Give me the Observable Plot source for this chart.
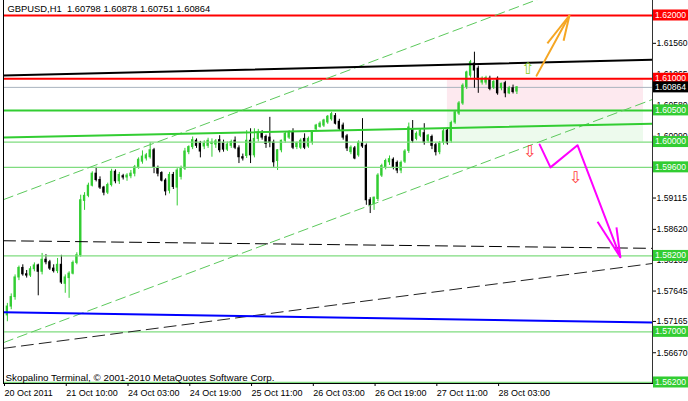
<!DOCTYPE html>
<html><head><meta charset="utf-8">
<script src="https://cdn.jsdelivr.net/npm/d3@7"></script>
<script src="https://cdn.jsdelivr.net/npm/@observablehq/plot@0.6"></script>
<style>
html,body{margin:0;padding:0;background:#fff;}
#chart{width:688px;height:401px;overflow:hidden;}
svg{display:block;}
</style>
</head><body><div id="chart"></div>
<script>
// ---------- DATA ----------
const symbol = "GBPUSD,H1";
const opens = [1.5685,1.5726,1.5740,1.5755,1.5786,1.5801,1.5791,1.5789,1.5799,1.5805,1.5795,1.5814,1.5810,1.5800,1.5796,1.5806,1.5776,1.5785,1.5792,1.5809,
1.5821,1.5907,1.5915,1.5931,1.5950,1.5940,1.5928,1.5920,1.5932,1.5953,1.5938,1.5946,1.5944,1.5946,1.5950,1.5960,1.5969,1.5974,1.5976,1.5987,
1.5959,1.5951,1.5939,1.5923,1.5948,1.5928,1.5945,1.5958,1.5984,1.5992,1.6002,1.5998,1.5993,1.5994,1.5997,1.5996,1.6003,1.5998,1.5988,1.5994,
1.6002,1.5990,1.5976,1.5978,1.6002,1.5979,1.6005,1.6014,1.6008,1.6007,1.5999,1.5970,1.5987,1.6002,1.6007,1.6015,1.5992,1.5991,1.6005,1.5993,
1.5999,1.6020,1.6024,1.6026,1.6031,1.6036,1.6041,1.6032,1.6026,1.6009,1.5984,1.5990,1.5979,1.5998,1.5994,1.5908,1.5902,1.5910,1.5947,1.5960,
1.5968,1.5972,1.5967,1.5955,1.5969,1.5986,1.6020,1.6005,1.6010,1.6014,1.6002,1.6008,1.5995,1.5984,1.5999,1.6018,1.6002,1.6031,1.6045,1.6061,
1.6087,1.6105,1.6124,1.6116,1.6094,1.6094,1.6100,1.6086,1.6100,1.6085,1.6093,1.6077,1.6085,1.60798];
const highs = [1.5735,1.5745,1.5760,1.5790,1.5804,1.5806,1.5797,1.5803,1.5809,1.5807,1.5824,1.5822,1.5813,1.5806,1.5816,1.5821,1.5790,1.5795,1.5812,1.5825,
1.5916,1.5920,1.5935,1.5953,1.5960,1.5945,1.5930,1.5935,1.5957,1.5956,1.5952,1.5949,1.5950,1.5955,1.5963,1.5975,1.5986,1.5982,1.5999,1.5990,
1.5962,1.5953,1.5942,1.5952,1.5952,1.5958,1.5962,1.5990,1.5994,1.6008,1.6005,1.6001,1.6002,1.6006,1.6005,1.6004,1.6010,1.6003,1.6000,1.6003,
1.6008,1.5994,1.5981,1.6018,1.6021,1.6021,1.6020,1.6018,1.6011,1.6039,1.6003,1.5988,1.6003,1.6016,1.6018,1.6021,1.6000,1.6005,1.6013,1.6008,
1.6018,1.6028,1.6032,1.6036,1.6042,1.6047,1.6045,1.6036,1.6030,1.6012,1.5994,1.5993,1.6002,1.6037,1.5997,1.5912,1.5913,1.5950,1.5965,1.5973,
1.5978,1.5975,1.5970,1.5970,1.5988,1.6030,1.6034,1.6016,1.6020,1.6029,1.6012,1.6011,1.5998,1.6001,1.6020,1.6022,1.6033,1.6050,1.6064,1.6092,
1.6112,1.6129,1.6142,1.6120,1.6103,1.6104,1.6104,1.6097,1.6103,1.6093,1.6096,1.6088,1.6090,1.60878];
const lows = [1.5681,1.5716,1.5735,1.5750,1.5781,1.5788,1.5785,1.5786,1.5795,1.5757,1.5790,1.5806,1.5797,1.5793,1.5792,1.5775,1.5761,1.5753,1.5790,1.5806,
1.5818,1.5892,1.5912,1.5929,1.5937,1.5925,1.5915,1.5917,1.5929,1.5934,1.5933,1.5940,1.5938,1.5942,1.5945,1.5957,1.5965,1.5970,1.5973,1.5950,
1.5945,1.5937,1.5915,1.5918,1.5925,1.5899,1.5940,1.5955,1.5980,1.5988,1.5990,1.5975,1.5988,1.5990,1.5976,1.5990,1.5983,1.5984,1.5985,1.5990,
1.5988,1.5966,1.5970,1.5974,1.5966,1.5975,1.6000,1.6003,1.5990,1.5991,1.5960,1.5955,1.5983,1.5998,1.6004,1.5988,1.5988,1.5988,1.5988,1.5990,
1.5995,1.6017,1.6022,1.6023,1.6028,1.6033,1.6027,1.6018,1.6003,1.5985,1.5980,1.5972,1.5976,1.5990,1.5900,1.5887,1.5892,1.5906,1.5944,1.5956,
1.5963,1.5956,1.5950,1.5950,1.5966,1.5982,1.5998,1.6002,1.6007,1.5995,1.5998,1.5988,1.5978,1.5980,1.5995,1.5995,1.5998,1.6028,1.6042,1.6058,
1.6083,1.6101,1.6085,1.6077,1.6090,1.6090,1.6081,1.6083,1.6074,1.6081,1.6070,1.6075,1.6076,1.60751];
const closes = [1.5728,1.5740,1.5755,1.5786,1.5801,1.5791,1.5789,1.5799,1.5805,1.5795,1.5814,1.5810,1.5800,1.5796,1.5806,1.5778,1.5786,1.5792,1.5809,1.5821,
1.5908,1.5915,1.5931,1.5950,1.5940,1.5928,1.5920,1.5932,1.5953,1.5938,1.5948,1.5944,1.5947,1.5950,1.5960,1.5972,1.5977,1.5979,1.5987,1.5959,
1.5950,1.5939,1.5922,1.5948,1.5929,1.5955,1.5958,1.5985,1.5992,1.6003,1.5994,1.5985,1.5997,1.6002,1.5999,1.6001,1.5987,1.5988,1.5996,1.6000,
1.5991,1.5976,1.5974,1.6002,1.5979,1.6005,1.6015,1.6007,1.5997,1.5999,1.5968,1.5987,1.6002,1.6013,1.6015,1.5991,1.5998,1.6002,1.5991,1.6005,
1.6015,1.6026,1.6029,1.6034,1.6040,1.6044,1.6029,1.6021,1.6007,1.5990,1.5991,1.5974,1.5999,1.5993,1.5908,1.5900,1.5912,1.5947,1.5962,1.5970,
1.5973,1.5959,1.5955,1.5967,1.5985,1.6023,1.6002,1.6013,1.6018,1.5999,1.6010,1.5994,1.5984,1.5998,1.6017,1.5998,1.6030,1.6047,1.6061,1.6089,
1.6110,1.6126,1.6113,1.6098,1.6100,1.6101,1.6084,1.6095,1.6077,1.6092,1.6077,1.6085,1.6079,1.60864];

const xTickBars = [0, 16, 32, 48, 64, 80, 96, 112, 128];
const xTickLabels = ["20 Oct 2011","21 Oct 10:00","24 Oct 03:00","24 Oct 19:00","25 Oct 11:00","26 Oct 03:00","26 Oct 19:00","27 Oct 11:00","28 Oct 03:00"];
const yTickValues = [1.61560, 1.61065, 1.60580, 1.60090, 1.59115, 1.58620, 1.58135, 1.57645, 1.57165, 1.56670];

const resistanceLevels = [1.6200, 1.6100];
const supportLevels = [1.6050, 1.6000, 1.5960, 1.5820, 1.5700, 1.5620];
const currentPrice = 1.60864;

// trend lines: [bar, price] end points
const trendBlack = [[0, 1.6105], [168, 1.6130]];
const trendGreen = [[0, 1.6007], [168, 1.6029]];
const trendBlue = [[0, 1.5731], [168, 1.5715]];
const dashedFlat = [[0, 1.5844], [168, 1.5832]];
const dashedRising = [[0, 1.5674], [168, 1.5808]];
const channelLower = [[0, 1.5683], [168, 1.6067]];
const channelUpper = [[0, 1.5909], [168, 1.6293]];

// zones: [barStart, barEnd, priceLow, priceHigh]
const sellZone = [[115, 165.8, 1.6050, 1.6100]];
const buyZone = [[115, 165.8, 1.6000, 1.6050]];

// forecast arrows
const bullPath = [[138.1, 1.6105], [146.6, 1.6200]];
const bullHead = [[140.9, 1.6156, 146.6, 1.6200], [145.1, 1.6160, 146.6, 1.6200]];
const bearPath = [[138.9, 1.5996], [141.7, 1.5960], [148.7, 1.5995], [159.8, 1.5818]];
const bearHead = [[153.9, 1.5874, 159.8, 1.5818], [158.8, 1.5865, 159.8, 1.5818]];
const sellSignals = [[136.3, 1.5985], [148.2, 1.5944]];
const buySignals = [[135.8, 1.6116]];

const copyright = "Skopalino Terminal, \u00a9 2001-2010 MetaQuotes Software Corp.";

// ---------- CHART ----------
const candles = opens.map((o, i) => ({i, open: o, high: highs[i], low: lows[i], close: closes[i]}));
const BULL = "#32cd32", BEAR = "#000000";
const col = d => d.close >= d.open ? BULL : BEAR;
const last = candles[candles.length - 1];
const f5 = d3.format(".5f");
const title = `${symbol}\u00a0\u00a0${f5(last.open)} ${f5(last.high)} ${f5(last.low)} ${f5(last.close)}`;
const FONT = "'Liberation Sans', Arial, sans-serif";

const lineOpts = (stroke, strokeWidth, dash) => ({x: d => d[0], y: d => d[1], stroke, strokeWidth, strokeDasharray: dash, clip: true});

const chart = Plot.plot({
  width: 688, height: 401,
  marginLeft: 3, marginRight: 36, marginTop: 0, marginBottom: 18,
  style: {fontFamily: FONT, fontSize: "9px", background: "#fff", color: "#000"},
  x: {domain: [0, 168.13]},
  y: {domain: [1.56184, 1.62237]},
  color: {type: "identity"},
  marks: [
    Plot.rect(sellZone, {x1: d => d[0], x2: d => d[1], y1: d => d[2], y2: d => d[3], fill: "#fde9ef"}),
    Plot.rect(buyZone, {x1: d => d[0], x2: d => d[1], y1: d => d[2], y2: d => d[3], fill: "#edfaed"}),
    Plot.ruleY([currentPrice], {stroke: "#a9b3bf", strokeWidth: 1}),
    // candles
    Plot.ruleX(candles, {x: "i", y1: "low", y2: "high", stroke: col, strokeWidth: 1, clip: true}),
    Plot.rect(candles, {x1: d => d.i - 0.3, x2: d => d.i + 0.3, y1: d => Math.min(d.open, d.close), y2: d => Math.max(d.open, d.close), fill: col, insetTop: -0.5, insetBottom: -0.5, clip: true}),
    // levels
    Plot.ruleY(supportLevels, {stroke: d => d === 1.6050 ? "#32cd32" : "#7fdc7f", strokeWidth: d => d === 1.6050 ? 2 : 1.3}),
    Plot.ruleY(resistanceLevels, {stroke: "#ff0000", strokeWidth: 2}),
    // trend lines
    Plot.line(channelLower, lineOpts("#5cc95c", 1, "10,5")),
    Plot.line(channelUpper, lineOpts("#5cc95c", 1, "10,5")),
    Plot.line(dashedFlat, lineOpts("#000", 1, "12,6")),
    Plot.line(dashedRising, lineOpts("#222", 1, "12,6")),
    Plot.line(trendBlue, lineOpts("#0000ff", 2)),
    Plot.line(trendGreen, lineOpts("#32cd32", 2)),
    Plot.line(trendBlack, lineOpts("#000", 2)),
    // forecasts
    Plot.line(bullPath, {x: d => d[0], y: d => d[1], stroke: "#f5a623", strokeWidth: 2}),
    Plot.link(bullHead, {x1: d => d[0], y1: d => d[1], x2: d => d[2], y2: d => d[3], stroke: "#f5a623", strokeWidth: 2}),
    Plot.line(bearPath, {x: d => d[0], y: d => d[1], stroke: "#ff00ff", strokeWidth: 2}),
    Plot.link(bearHead, {x1: d => d[0], y1: d => d[1], x2: d => d[2], y2: d => d[3], stroke: "#ff00ff", strokeWidth: 2}),
    Plot.text(sellSignals, {x: d => d[0], y: d => d[1], text: () => "\u21e9", fill: "#ff3b3b", fontSize: 16, fontFamily: "DejaVu Sans"}),
    Plot.text(buySignals, {x: d => d[0], y: d => d[1], text: () => "\u21e7", fill: "#8ccf2a", fontSize: 16, fontFamily: "DejaVu Sans"}),
    // frame
    Plot.frame({anchor: "left", stroke: "#000"}),
    Plot.frame({anchor: "right", stroke: "#333"}),
    Plot.frame({anchor: "bottom", stroke: "#000"}),
    // axes
    Plot.axisX({ticks: xTickBars, tickFormat: (d, i) => xTickLabels[i], tickSize: 3, tickPadding: 3, textAnchor: "start", dx: 1, label: null}),
    Plot.axisY({anchor: "right", ticks: yTickValues, tickFormat: f5, tickSize: 3, tickPadding: 1, fontSize: 8.6, label: null}),
    // texts
    Plot.text([title], {frameAnchor: "top-left", text: d => d, dx: 4, dy: 5, lineAnchor: "top", textAnchor: "start", fill: "#000", fontSize: 9.4}),
    Plot.text([copyright], {frameAnchor: "bottom-left", text: d => d, dx: 2, dy: -3, lineAnchor: "bottom", textAnchor: "start", fill: "#000", fontSize: 9.8})
  ]
});
document.getElementById("chart").append(chart);

// price-level boxes on the right axis, placed with the chart's own scales
const yS = chart.scale("y"), xS = chart.scale("x");
const boxX = xS.range[1] + 1;
const boxes = [
  ...resistanceLevels.map(p => ({p, fill: "#ff0000"})),
  {p: currentPrice, fill: "#000000"},
  ...supportLevels.map(p => ({p, fill: "#32cd32"}))
];
const g = d3.select(chart).append("g").attr("font-family", FONT).attr("font-size", 8.6).attr("text-anchor", "start");
boxes.forEach(b => {
  const y = yS.apply(b.p);
  g.append("rect").attr("x", boxX).attr("y", y - 5.5).attr("width", 688 - boxX).attr("height", 11).attr("fill", b.fill);
  g.append("text").attr("x", boxX + 2).attr("y", y).attr("dy", "0.34em").attr("text-anchor", "start").attr("fill", "#fff").text(f5(b.p));
});
</script>
</body></html>
